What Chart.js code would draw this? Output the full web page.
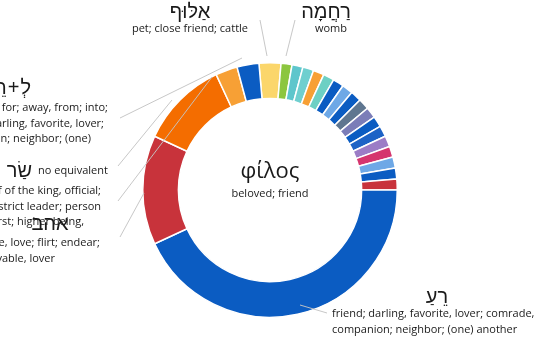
<!DOCTYPE html>
<html>
<head>
<meta charset="utf-8">
<script src="https://cdn.jsdelivr.net/npm/chart.js@4"></script>
<style>
  html, body { margin: 0; padding: 0; background: #fff; }
  #wrap { width: 540px; height: 363px; position: relative; }
</style>
</head>
<body>
<div id="wrap"><canvas id="myChart"></canvas></div>
<script>
// slice values, clockwise from the yellow slice at the top
const sliceNames = ['alluf', 'rachamah', 's3', 's4', 's5', 's6', 's7', 's8', 's9', 's10', 's11', 's12', 's13', 's14', 's15', 's16', 's17', 's18', 'rea', 'ahav', 'sar', 'noequiv', 'le-rea'];
const sliceValues = [2, 1, 1, 1, 1, 1, 1, 1, 1, 1, 1, 1, 1, 1, 1, 1, 1, 1, 31, 10, 8, 2, 2];
const sliceColors = ['#fbd66b', '#8cc63f', '#5ec6cc', '#6fcfcf', '#f7a035', '#6dd0c4', '#0b5cc2', '#6ea8e6', '#0b5cc2',
    '#5f7690', '#7b7db8', '#0b5cc2', '#1d63c6', '#9b7cc6', '#d5356e', '#6ea8e6', '#0b5cc2', '#c8333b',
    '#0b5cc2', '#c8333b', '#f46d00', '#f7a035', '#0b5cc2'];

// centre text
const centerWord = 'φίλος';
const centerGloss = 'beloved; friend';

// outside labels (hebrew word + gloss lines)
const calloutWords = ['אַלּוּף', 'רַחֲמָה', 'רֵעַ', 'לְ+רֵעַ', 'שַׂר', 'אהב'];
const calloutGlosses = [
    ['pet; close friend; cattle'],
    ['womb'],
    ['friend; darling, favorite, lover; comrade,', 'companion; neighbor; (one) another'],
    ['to, for; away, from; into;', 'friend; darling, favorite, lover;', 'companion; neighbor; (one)'],
    ['chief of the king, official;', 'district leader; person', 'first; higher being,'],
    ['like, love; flirt; endear;', 'lovable, lover']
];
const noEquivalentText = 'no equivalent';

// where each label sits (word x,y + align, gloss x, first line y, align)
const calloutLayout = [
    { wx: 190, wy: 12, wAlign: 'center', gx: 190, gy: 29, gAlign: 'center' },
    { wx: 326, wy: 12, wAlign: 'center', gx: 331, gy: 29, gAlign: 'center' },
    { wx: 437, wy: 297, wAlign: 'center', gx: 332, gy: 314, gAlign: 'left' },
    { wx: 31, wy: 88, wAlign: 'right', gx: 108, gy: 108, gAlign: 'right', gxs: [108, 104, 91] },
    { wx: 32, wy: 171, wAlign: 'right', gx: 101, gy: 191, gAlign: 'right', gxs: [101, 101, 84] },
    { wx: 50, wy: 224, wAlign: 'center', gx: 100, gy: 243, gAlign: 'right', gxs: [100, 55] }
];
const leaderLines = [
    [[260, 20], [267, 56]],
    [[295, 20], [286, 56]],
    [[300, 305], [327, 313]],
    [[120, 118], [242, 58]],
    [[118, 166], [172, 100]],
    [[118, 201], [212, 77]],
    [[120, 237], [144, 193]]
];

var textFont = '"Open Sans", "Noto Sans", sans-serif';
var hebFont = '"Liberation Sans", "DejaVu Sans", sans-serif';

// hebrew word, "a+b" is laid out right to left by hand
function drawHebrew(ctx, word, x, y, align) {
    ctx.direction = 'rtl';
    if (word.indexOf('+') === -1) {
        ctx.textAlign = align;
        ctx.fillText(word, x, y);
        ctx.direction = 'ltr';
        return;
    }
    const parts = word.split('+');
    ctx.textAlign = 'right';
    var cur = x;
    parts.forEach((p, k) => {
        if (k > 0) {
            ctx.fillText('+', cur, y);
            cur -= ctx.measureText('+').width + 1;
        }
        ctx.fillText(p, cur, y);
        cur -= ctx.measureText(p).width + 1;
    });
    ctx.direction = 'ltr';
}

// draws the leader lines, the centre text and the labels
const labelPlugin = {
    id: 'labelPlugin',
    afterDraw(chart) {
        const ctx = chart.ctx;
        ctx.save();
        ctx.strokeStyle = 'rgba(196,196,196,0.95)';
        ctx.lineWidth = 1;
        leaderLines.forEach(l => {
            ctx.beginPath();
            ctx.moveTo(l[0][0], l[0][1]);
            ctx.lineTo(l[1][0], l[1][1]);
            ctx.stroke();
        });

        ctx.fillStyle = '#1a1a1a';
        ctx.textBaseline = 'middle';
        const meta = chart.getDatasetMeta(0).data[0];
        ctx.textAlign = 'center';
        ctx.font = '22px ' + textFont;
        ctx.fillText(centerWord, meta.x, meta.y - 18);
        ctx.font = '11px ' + textFont;
        ctx.fillText(centerGloss, meta.x, meta.y + 4);

        for (var i = 0; i < calloutWords.length; i++) {
            const lay = calloutLayout[i];
            ctx.font = '20px ' + hebFont;
            drawHebrew(ctx, calloutWords[i], lay.wx, lay.wy, lay.wAlign);
            ctx.font = '11px ' + textFont;
            ctx.textAlign = lay.gAlign;
            calloutGlosses[i].forEach((line, j) => {
                const x = lay.gxs ? lay.gxs[j] : lay.gx;
                ctx.fillText(line, x, lay.gy + j * 15.5);
            });
        }
        ctx.font = '11px ' + textFont;
        ctx.textAlign = 'left';
        ctx.fillText(noEquivalentText, 38, 171);
        ctx.restore();
    }
};

const config = {
    type: 'doughnut',
    data: {
        labels: sliceNames,
        datasets: [{
            data: sliceValues,
            backgroundColor: sliceColors,
            borderColor: '#ffffff',
            borderWidth: 1.5
        }]
    },
    options: {
        responsive: true,
        maintainAspectRatio: false,
        animation: false,
        rotation: -5,
        cutout: '72%',
        layout: {
            padding: { top: 62, bottom: 45, left: 0, right: 0 }
        },
        plugins: {
            legend: { display: false },
            tooltip: { enabled: false }
        }
    },
    plugins: [labelPlugin]
};

var myChart = new Chart(document.getElementById('myChart'), config);
</script>
</body>
</html>
